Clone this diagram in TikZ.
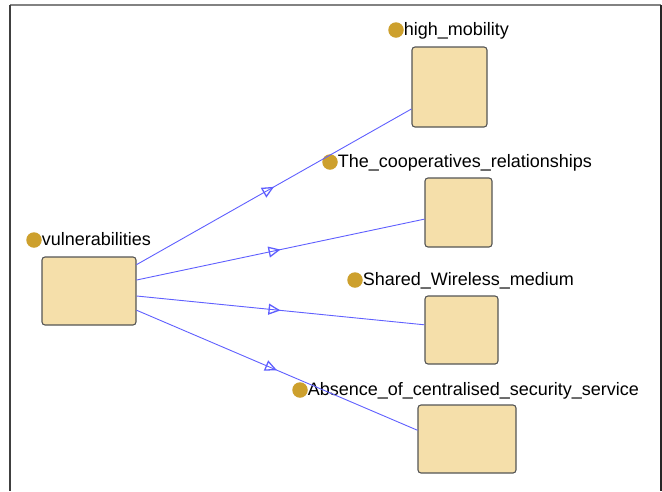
\documentclass[tikz,border=0pt]{standalone}
\usepackage{fontspec}
\setmainfont{Liberation Sans}
\usetikzlibrary{arrows.meta,positioning,decorations.markings}
\definecolor{clsFill}{RGB}{245,223,170}
\definecolor{clsDraw}{RGB}{85,85,85}
\definecolor{dotGold}{RGB}{205,160,45}
\definecolor{edgeBlue}{RGB}{95,95,255}
\definecolor{frameGray}{RGB}{130,130,130}
\tikzset{
  cls/.style={draw=clsDraw, fill=clsFill, rounded corners=3pt, line width=1.1pt, inner sep=0pt},
  dot/.style={circle, fill=dotGold, inner sep=0pt, minimum size=15.5pt},
  lbl/.style={inner sep=0pt, anchor=base west, xshift=2pt, font=\fontsize{18}{21}\selectfont},
  isa/.style={draw=edgeBlue, line width=0.9pt,
    postaction={decorate, decoration={markings,
      mark=at position 0.5 with {\arrow[edgeBlue, line width=1.3pt]{Triangle[open, length=12pt, width=11pt]}}}}}
}
\begin{document}
\begin{tikzpicture}[x=1pt, y=-1pt]
  \useasboundingbox (0,0) rectangle (662,491);
  % frame
  \draw[frameGray, line width=1.5pt] (10,5) -- (661,5);
  \draw[black!75, line width=1.5pt] (10,5) -- (10,491);
  \draw[black!85, line width=1.5pt] (661,5) -- (661,491);
  % classes
  \node[cls, minimum width=94pt, minimum height=68pt] (vuln) at (89,291) {};
  \node[cls, minimum width=75pt, minimum height=80pt] (mobility) at (449.5,87) {};
  \node[cls, minimum width=67pt, minimum height=69pt] (coop) at (458.5,212.5) {};
  \node[cls, minimum width=73pt, minimum height=68pt] (shared) at (461.5,330) {};
  \node[cls, minimum width=98pt, minimum height=68pt] (absence) at (467,439) {};
  % labels
  \node[dot] (vuln-dot) at (34,240) {};
  \node[lbl] at (vuln-dot.south east) {vulnerabilities};
  \node[dot] (mobility-dot) at (396,30) {};
  \node[lbl] at (mobility-dot.south east) {high\_mobility};
  \node[dot] (coop-dot) at (330,162) {};
  \node[lbl] at (coop-dot.south east) {The\_cooperatives\_relationships};
  \node[dot] (shared-dot) at (355,280) {};
  \node[lbl] at (shared-dot.south east) {Shared\_Wireless\_medium};
  \node[dot] (absence-dot) at (300,390) {};
  \node[lbl] at (absence-dot.south east) {Absence\_of\_centralised\_security\_service};
  % subclass links
  \foreach \from/\to in {29/mobility.210, 13/coop.191, -6/shared.172, -22/absence.170}
    \draw[isa] (vuln.\from) -- (\to);
\end{tikzpicture}
\end{document}
